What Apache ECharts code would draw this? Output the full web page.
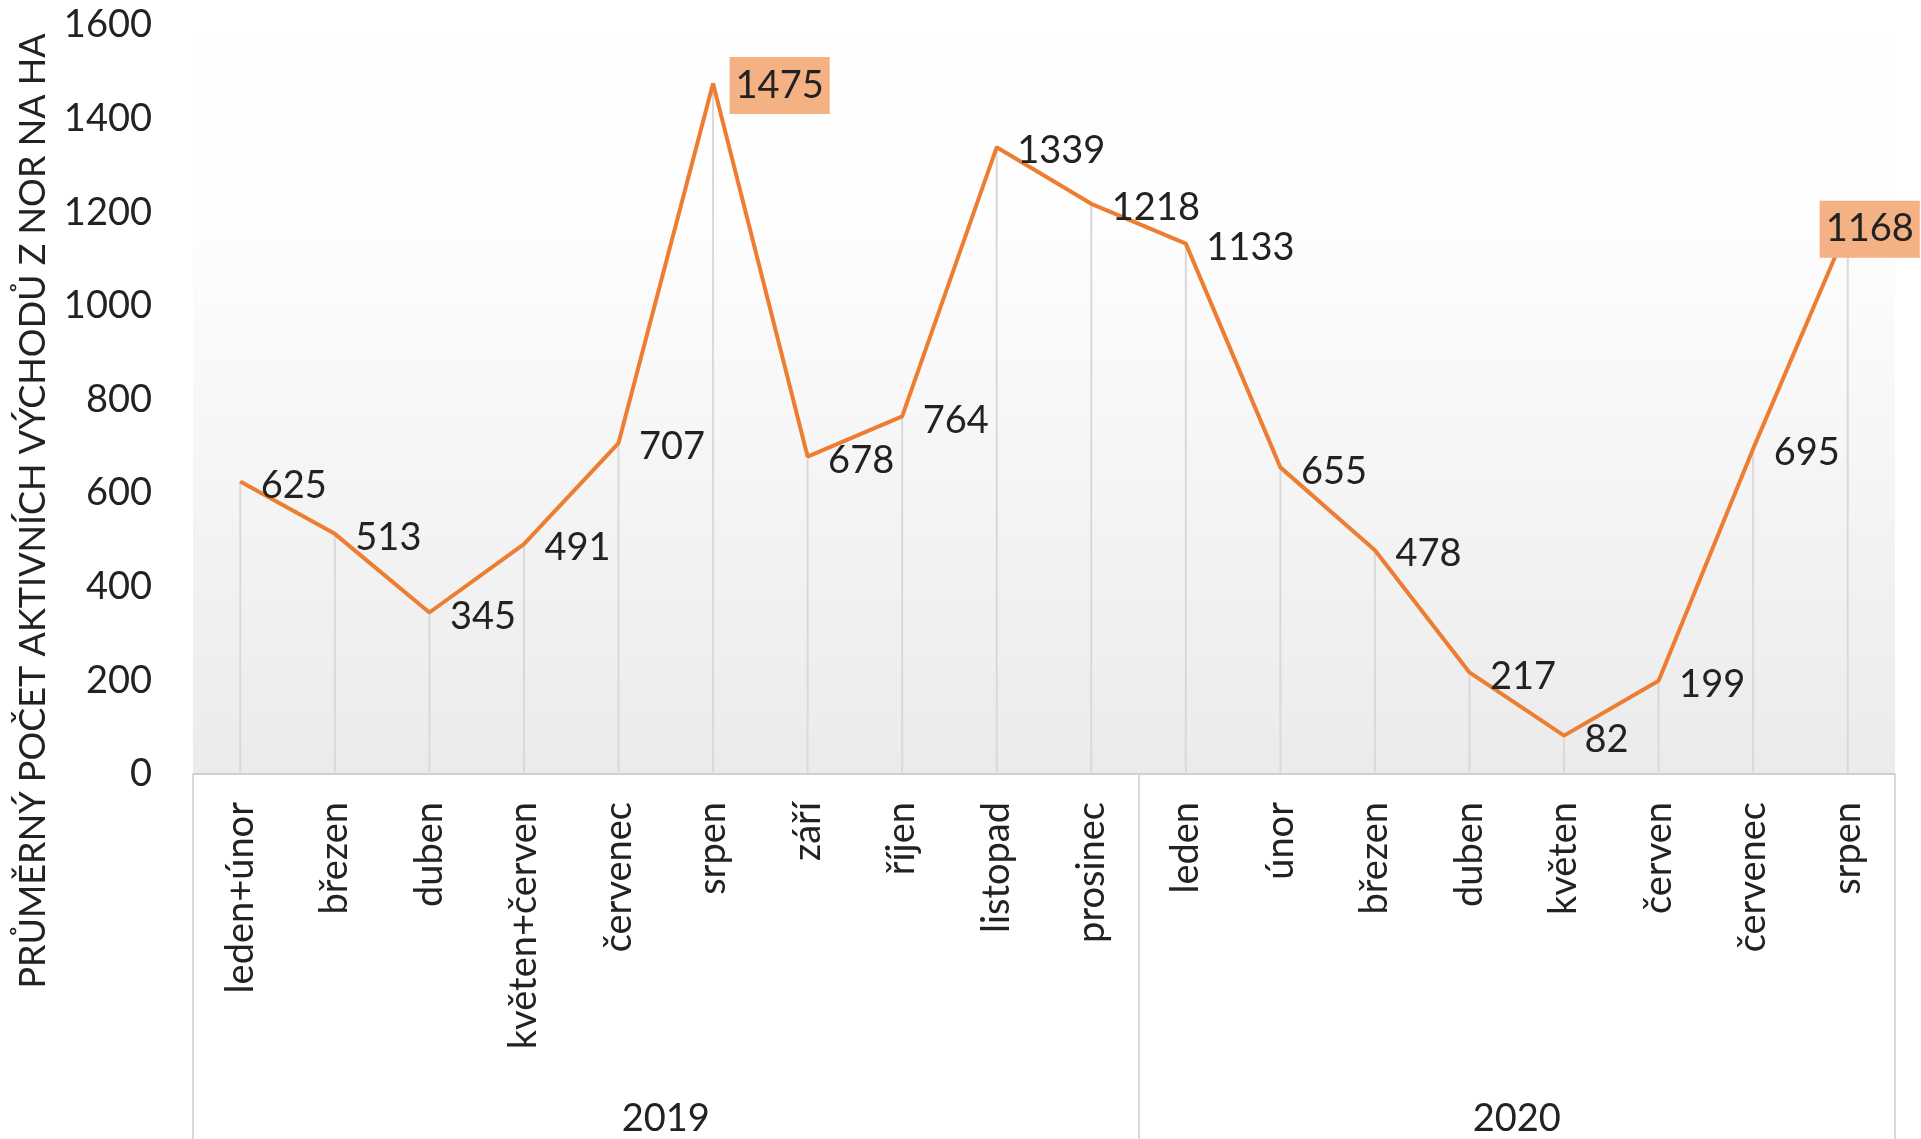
<!DOCTYPE html>
<html>
<head>
<meta charset="utf-8">
<script src="https://cdn.jsdelivr.net/npm/echarts@6/dist/echarts.min.js"></script>
<style>
html,body{margin:0;padding:0;background:#fff;}
#c{width:1921px;height:1139px;}
</style>
</head>
<body>
<div id="c"></div>
<script>
const categories = ['leden+únor','březen','duben','květen+červen','červenec','srpen','září','říjen','listopad','prosinec',
                    'leden','únor','březen','duben','květen','červen','červenec','srpen'];
const values = [625,513,345,491,707,1475,678,764,1339,1218,1133,655,478,217,82,199,695,1168];
const years = ['2019','2020'];
const groupSizes = [10,8];
const highlighted = [5,17];
const yTicks = {min:0,max:1600,interval:200};
const yName = 'PRŮMĚRNÝ POČET AKTIVNÍCH VÝCHODŮ Z NOR NA HA';

const FONT = 'Lato';
const TXT = '#222222';
const FS = 38;

// group boundaries and centers on the category index scale
const bounds = [-0.5]; const centers = [];
let s = -0.5;
groupSizes.forEach(n => { centers.push(s + n/2); s += n; bounds.push(s); });

const lastIdx = values.length - 1;
const lineData = values.map((v,i) => {
  if (highlighted.indexOf(i) < 0) return v;
  return {
    value: v,
    label: i === lastIdx ? {position:'inside', backgroundColor:'#F4B183', padding:[10,6,9,6]}
                         : {distance:16, backgroundColor:'#F4B183', padding:[10,6,9,6]}
  };
});

const chart = echarts.init(document.getElementById('c'), null, {renderer:'canvas'});
chart.setOption({
  animation:false,
  textStyle:{fontFamily:FONT},
  grid:{left:193,right:26,top:25,bottom:365,show:true,borderWidth:0,
    backgroundColor:new echarts.graphic.LinearGradient(0,0,0,1,[
      {offset:0,color:'#ffffff'},{offset:0.25,color:'#fefefe'},{offset:1,color:'#ebebeb'}])},
  xAxis:[{
    type:'category', data:categories, boundaryGap:true,
    axisLine:{show:true,lineStyle:{color:'#d0d0d0',width:2}},
    axisTick:{show:false},
    axisLabel:{rotate:90,interval:0,margin:28,fontSize:FS,color:TXT,fontFamily:FONT},
    splitLine:{show:false}
  },{
    type:'value', min:-0.5, max:17.5, position:'bottom',
    axisLine:{show:false}, splitLine:{show:false},
    axisTick:{show:true,customValues:bounds,length:365,lineStyle:{color:'#d9d9d9',width:2}},
    axisLabel:{customValues:centers,margin:326,fontSize:FS,color:TXT,fontFamily:FONT,
      formatter:v => { const k = centers.indexOf(v); return k>=0 ? years[k] : ''; }}
  }],
  yAxis:{
    type:'value', min:yTicks.min, max:yTicks.max, interval:yTicks.interval,
    axisLine:{show:false}, axisTick:{show:false}, splitLine:{show:false},
    axisLabel:{margin:41,fontSize:FS,color:TXT,fontFamily:FONT,formatter:v => String(v)}
  },
  series:[{
    type:'bar', data:values, barWidth:2, silent:true, z:1,
    itemStyle:{color:'#d9d9d9'}
  },{
    type:'line', data:lineData, z:3, symbol:'circle', symbolSize:1, showSymbol:true, showAllSymbol:true,
    itemStyle:{color:'rgba(0,0,0,0)'},
    lineStyle:{color:'#ED7D31',width:4},
    labelLayout:p => ({
      hideOverlap:false,
      dx: p.dataIndex === lastIdx ? 22 : 0,
      dy: highlighted.indexOf(p.dataIndex) >= 0 ? 2 : 4
    }),
    label:{show:true,position:'right',distance:20,fontSize:FS,color:TXT,fontFamily:FONT}
  }],
  graphic:[{
    type:'text', x:33, y:511, rotation:Math.PI/2,
    style:{text:yName,fontSize:36,fontFamily:FONT,fill:TXT,align:'center',verticalAlign:'middle'}
  }]
});
</script>
</body>
</html>
